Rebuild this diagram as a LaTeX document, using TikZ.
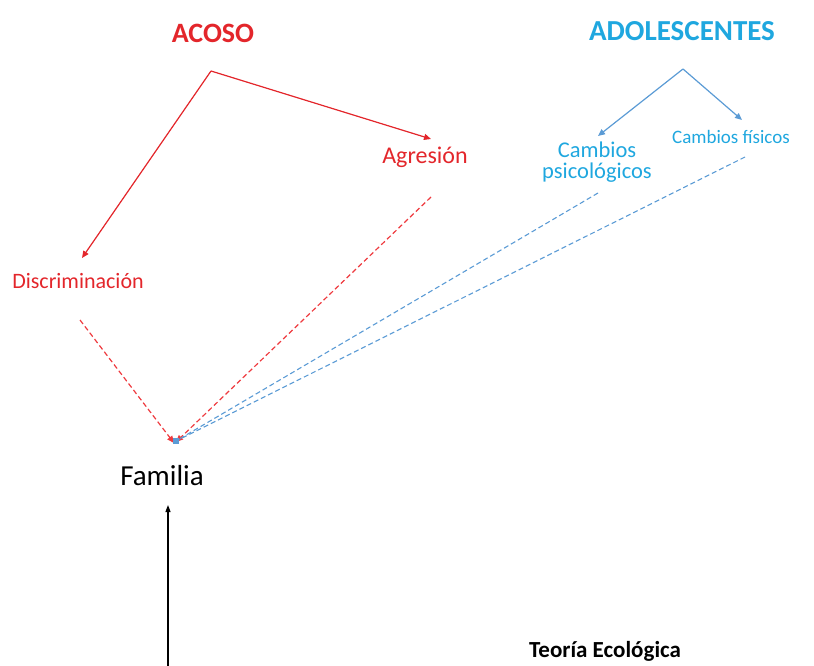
\documentclass[tikz,border=0pt]{standalone}
\usepackage{fontspec}
\setmainfont{Carlito}
\usetikzlibrary{arrows.meta}
\definecolor{redA}{HTML}{E3262B}
\definecolor{redD}{HTML}{EE3A3F}
\definecolor{blueT}{HTML}{1FA7DF}
\definecolor{blueL}{HTML}{5B9BD5}
\begin{document}
\begin{tikzpicture}[x=1pt,y=-1pt,
  lbl/.style={inner sep=0pt, anchor=center},
  redtxt/.style={lbl, text=redA},
  bluetxt/.style={lbl, text=blueT},
  redarrow/.style={draw=redA, line width=1.2pt, -{Triangle[length=7pt,width=6pt]}, fill=redA},
  reddash/.style={draw=redD, line width=1.2pt, dash pattern=on 5pt off 3pt, -{Triangle[length=7pt,width=6pt]}},
  bluearrow/.style={draw=blueL, line width=1.2pt, -{Triangle[length=7pt,width=6pt]}},
  bluedash/.style={draw=blueL, line width=1.1pt, dash pattern=on 5pt off 3pt},
  blackarrow/.style={draw=black, line width=1.2pt, -{Triangle[length=7pt,width=5pt]}}
]
\useasboundingbox (0,0) rectangle (814,666);
\node[redtxt, font=\bfseries\fontsize{28}{30}\selectfont] (acoso) at (213,33) {ACOSO};
\node[redtxt, font=\fontsize{24}{26}\selectfont] (agr) at (425,157) {Agresión};
\node[redtxt, font=\fontsize{22}{26}\selectfont] (disc) at (78,281) {Discriminación};
\node[bluetxt, font=\bfseries\fontsize{29}{30}\selectfont] (adol) at (682,31) {ADOLESCENTES};
\node[bluetxt, align=center, font=\fontsize{22.5}{21}\selectfont] (psico) at (597,162) {Cambios\\psicológicos};
\node[bluetxt, font=\fontsize{19}{22}\selectfont] (fis) at (731,137) {Cambios físicos};
\node[lbl, font=\fontsize{29}{30}\selectfont] (fam) at (162,476) {Familia};
\node[lbl, font=\bfseries\fontsize{23}{26}\selectfont] (teo) at (605,651) {Teoría Ecológica};

\coordinate (a1) at (211,71);
\coordinate (ag) at (431,139);
\coordinate (dc) at (82,258);
\coordinate (d1s) at (80,320);
\coordinate (d1e) at (174,443);
\coordinate (ag2s) at (431,197);
\coordinate (ag2e) at (176,442);
\coordinate (b1) at (683,69);
\coordinate (b2) at (598,136);
\coordinate (b3) at (742,120);
\coordinate (ps) at (598,193);
\coordinate (fs) at (745,157);
\coordinate (be) at (176,441);
\coordinate (fb) at (168,666);
\coordinate (ft) at (168,505);

\draw[redarrow] (a1) -- (ag);
\draw[redarrow] (a1) -- (dc);
\draw[reddash] (d1s) -- (d1e);
\draw[reddash] (ag2s) -- (ag2e);
\draw[bluearrow] (b1) -- (b2);
\draw[bluearrow] (b1) -- (b3);
\draw[bluedash] (ps) -- (be);
\draw[bluedash] (fs) -- (be);
\fill[blueL] (173,438) rectangle (179,444);
\draw[blackarrow] (fb) -- (ft);
\end{tikzpicture}
\end{document}
